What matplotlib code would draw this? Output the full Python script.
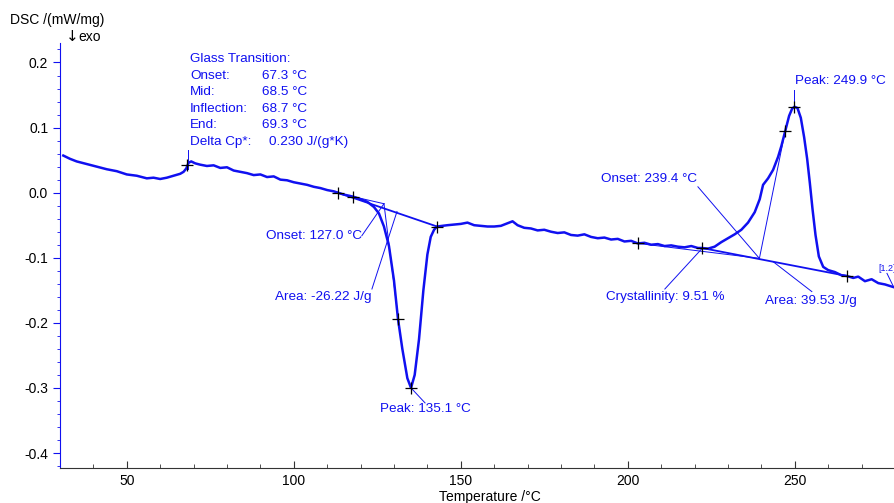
import numpy as np
import matplotlib
matplotlib.use("Agg")
import matplotlib.pyplot as plt
from matplotlib.ticker import MultipleLocator

plt.rcParams["font.family"] = ["Liberation Sans", "DejaVu Sans"]

BLUE = "#1010f0"

# DSC heating trace (temperature in °C, heat flow in mW/mg)
temp = [31, 33, 35, 38, 41, 44, 47, 50, 53, 56, 58, 60, 62, 64, 66, 67, 67.8, 68.5, 69.3,
        70.5, 72, 74, 76, 78, 80, 82, 84, 86, 88, 90, 92, 94, 96, 98, 100, 102, 104, 106,
        108, 110, 112,
        113.2, 115, 117.7, 120, 122, 124, 125.5, 127, 128.5, 130, 131.2, 132.5, 134, 135.1,
        136.2, 137.5, 138.8, 140, 141, 142, 142.9, 144.5, 146,
        148, 150, 152, 154, 156, 158, 160, 162, 164, 165.5, 167, 169, 171, 173, 175, 177,
        179, 181, 183, 185, 187, 189, 191, 193, 195, 197, 199, 201, 203, 205, 207, 209,
        211, 213, 215, 217, 219, 221, 222.2,
        224, 226, 228, 230, 232, 234, 236, 238, 239.5, 240.5, 242, 243.5, 245, 246, 247.1,
        248.3, 249.2, 249.9, 250.8, 251.8, 252.8, 253.7, 254.5, 255.3, 256.2, 257.2, 258.5,
        260, 262, 264, 265.6, 267.5, 269, 271, 273, 275, 277, 279.5]
dsc = [0.057, 0.052, 0.048, 0.044, 0.040, 0.036, 0.033, 0.028, 0.026, 0.022, 0.023, 0.021,
       0.023, 0.026, 0.029, 0.032, 0.037, 0.046, 0.048,
       0.045, 0.043, 0.041, 0.042, 0.038, 0.039, 0.034, 0.032, 0.030, 0.027, 0.028, 0.024,
       0.025, 0.020, 0.019, 0.016, 0.014, 0.012, 0.009, 0.007, 0.004, 0.002,
       0.0, -0.003, -0.006, -0.010, -0.014, -0.022, -0.032, -0.052, -0.082, -0.135, -0.194,
       -0.240, -0.285, -0.300,
       -0.280, -0.225, -0.150, -0.095, -0.068, -0.057, -0.052, -0.051, -0.050,
       -0.049, -0.048, -0.046, -0.050, -0.051, -0.052, -0.052, -0.051, -0.047, -0.044,
       -0.050, -0.054, -0.055, -0.058, -0.057, -0.060, -0.062, -0.061, -0.065, -0.066,
       -0.064, -0.068, -0.070, -0.069, -0.072, -0.071, -0.075, -0.074, -0.078, -0.077,
       -0.080, -0.079, -0.082, -0.081, -0.083, -0.084, -0.082, -0.085, -0.085,
       -0.086, -0.083, -0.076, -0.070, -0.064, -0.057, -0.046, -0.030, -0.010, 0.012, 0.022,
       0.035, 0.055, 0.072, 0.094, 0.118, 0.129, 0.132, 0.130, 0.115, 0.085, 0.052, 0.015,
       -0.025, -0.065, -0.098, -0.114, -0.119, -0.122, -0.127, -0.128, -0.131, -0.129,
       -0.136, -0.133, -0.139, -0.141, -0.145]

# evaluation markers
mark_t = [68.0, 113.2, 117.7, 131.2, 135.1, 142.9, 203.1, 222.2, 247.1, 249.9, 265.6]
mark_v = [0.042, 0.0, -0.006, -0.194, -0.300, -0.052, -0.078, -0.085, 0.094, 0.132, -0.128]

# glass transition results
gt_labels = ["Onset:", "Mid:", "Inflection:", "End:", "Delta Cp*:"]
gt_values = ["67.3 °C", "68.5 °C", "68.7 °C", "69.3 °C", "0.230 J/(g*K)"]

# construction lines: (t0, v0, t1, v1)
thin_lines = [
    (68.4, 0.066, 68.4, 0.037),          # Tg marker
    (117.7, -0.006, 127.0, -0.017),      # cold cryst. pre-tangent
    (127.0, -0.017, 131.8, -0.215),      # cold cryst. inflection tangent
    (120.4, -0.066, 127.0, -0.017),      # onset leader
    (123.4, -0.148, 130.9, -0.029),      # area leader
    (135.1, -0.300, 139.3, -0.323),      # peak leader
    (203.1, -0.078, 239.4, -0.101),      # melting pre-tangent
    (239.4, -0.101, 247.1, 0.094),       # melting tangent
    (221.0, 0.009, 239.4, -0.101),       # onset leader
    (243.5, -0.106, 255.1, -0.152),      # area leader
    (222.2, -0.086, 211.1, -0.148),      # crystallinity leader
    (249.9, 0.132, 249.9, 0.158),        # peak leader
    (277.6, -0.124, 279.5, -0.144),
]
base_lines = [
    (113.2, 0.0, 142.9, -0.052),
    (222.2, -0.085, 265.6, -0.128),
]

fig = plt.figure(figsize=(8.95, 5.03), dpi=100)
ax = fig.add_axes([0.067, 0.0696, 0.933, 0.845])

for t0, v0, t1, v1 in base_lines:
    ax.plot([t0, t1], [v0, v1], color=BLUE, lw=1.3)
for t0, v0, t1, v1 in thin_lines:
    ax.plot([t0, t1], [v0, v1], color=BLUE, lw=0.7)

ax.plot(temp, dsc, color=BLUE, lw=1.8, solid_joinstyle="round")
ax.plot(mark_t, mark_v, "+", color="black", ms=8, mew=0.9, ls="none")

fs = 9.7
ax.text(68.9, 0.206, "Glass Transition:", color=BLUE, fontsize=fs, va="center")
for i, (lab, val) in enumerate(zip(gt_labels, gt_values)):
    y = 0.180 - i * 0.0254
    ax.text(68.9, y, lab, color=BLUE, fontsize=fs, va="center")
    ax.text(92.6 if i == 4 else 90.5, y, val, color=BLUE, fontsize=fs, va="center")

ax.text(120.5, -0.066, "Onset: 127.0 °C", color=BLUE, fontsize=fs, ha="right", va="center")
ax.text(123.3, -0.160, "Area: -26.22 J/g", color=BLUE, fontsize=fs, ha="right", va="center")
ax.text(125.8, -0.332, "Peak: 135.1 °C", color=BLUE, fontsize=fs, va="center")
ax.text(220.7, 0.0215, "Onset: 239.4 °C", color=BLUE, fontsize=fs, ha="right", va="center")
ax.text(211.1, -0.160, "Crystallinity: 9.51 %", color=BLUE, fontsize=fs, ha="center", va="center")
ax.text(241.1, -0.166, "Area: 39.53 J/g", color=BLUE, fontsize=fs, va="center")
ax.text(250.1, 0.171, "Peak: 249.9 °C", color=BLUE, fontsize=fs, va="center")
ax.text(274.9, -0.117, "[1.2]", color=BLUE, fontsize=6.5, va="center")

ax.set_xlim(30, 280)
ax.set_ylim(-0.423, 0.23)
ax.xaxis.set_major_locator(MultipleLocator(50))
ax.xaxis.set_minor_locator(MultipleLocator(10))
ax.yaxis.set_major_locator(MultipleLocator(0.1))
ax.yaxis.set_minor_locator(MultipleLocator(0.02))
ax.yaxis.set_major_formatter(plt.FuncFormatter(lambda v, p: f"{v:.1f}"))

for s in ("top", "right"):
    ax.spines[s].set_visible(False)
ax.spines["left"].set_color(BLUE)
ax.spines["bottom"].set_color("#333333")
ax.tick_params(axis="y", which="both", direction="out", colors=BLUE, labelcolor="black",
               labelsize=10)
ax.tick_params(axis="y", which="major", length=5)
ax.tick_params(axis="y", which="minor", length=2.5)
ax.tick_params(axis="x", which="both", direction="in", colors="#333333", labelcolor="black",
               labelsize=10, pad=4)
ax.tick_params(axis="x", which="major", length=5)
ax.tick_params(axis="x", which="minor", length=3)

fig.text(10 / 895, 1 - 20 / 503, "DSC /(mW/mg)", fontsize=10, va="center")
fig.text(66 / 895, 1 - 37 / 503, "↓", fontsize=11, va="center", family="DejaVu Sans")
fig.text(78 / 895, 1 - 37 / 503, "exo", fontsize=10, va="center")
fig.text(490 / 895, 1 - 497 / 503, "Temperature /°C", fontsize=10, ha="center", va="center")

fig.savefig("out.png", dpi=100)
